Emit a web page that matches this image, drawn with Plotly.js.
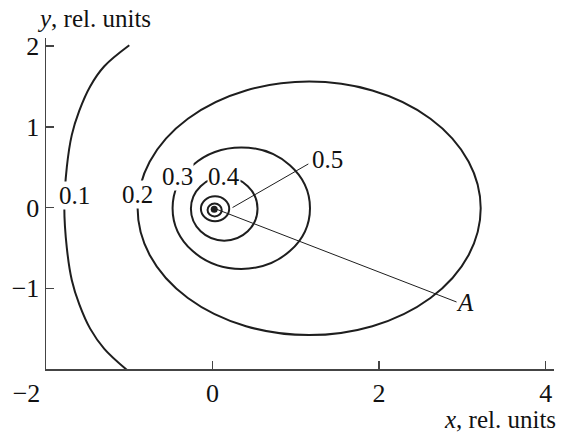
<!DOCTYPE html>
<html>
<head>
<meta charset="utf-8">
<script src="https://cdn.plot.ly/plotly-3.0.1.min.js"></script>
<style>
  html, body { margin: 0; padding: 0; background: #fff; }
  #chart { width: 565px; height: 432px; }
</style>
</head>
<body>
<div id="chart"></div>
<script>
// Open outer contour (level 0.1), read as points along the curve
const level01X = [-1.00, -1.30, -1.47, -1.60, -1.69, -1.75, -1.78, -1.75, -1.69, -1.60, -1.47, -1.30, -1.03];
const level01Y = [2.01, 1.75, 1.50, 1.20, 0.90, 0.50, 0.00, -0.50, -0.90, -1.20, -1.50, -1.75, -2.01];

// Closed contours: extents of each ring (levels 0.2, 0.3, 0.4, 0.5 and the innermost ring)
const ringLevels = ['0.2', '0.3', '0.4', '0.5', ''];
const ringXmin = [-0.90, -0.48, -0.26, -0.14, -0.06];
const ringXmax = [3.22, 1.17, 0.54, 0.20, 0.11];
const ringYmin = [-1.58, -0.76, -0.41, -0.17, -0.11];
const ringYmax = [1.56, 0.745, 0.38, 0.14, 0.05];

// Source point
const sourceX = [0.02];
const sourceY = [-0.02];

// Contour labels sitting on their curves
const labelText = ['0.1', '0.2', '0.3', '0.4'];
const labelX = [-1.66, -0.90, -0.42, 0.14];
const labelY = [0.15, 0.165, 0.39, 0.39];

// Leader lines for the 0.5 label and the point A
const leader05X = [0.24, 1.15];
const leader05Y = [0.00, 0.54];
const leaderAX = [0.02, 2.93];
const leaderAY = [-0.01, -1.17];
const leaderText = ['0.5', '<i>A</i>'];
const leaderTextX = [1.38, 3.03];
const leaderTextY = [0.60, -1.18];

// Axis ticks; the -2 label is pushed left, clear of the vertical axis
const xTicks = [-2, 0, 2, 4];
const xTickText = ['\u22122\u00a0\u00a0\u00a0\u00a0\u00a0\u00a0', '0', '2', '4'];
const yTicks = [-1, 0, 1, 2];

const ink = '#1e1e1e';
const axisInk = '#444';
const serif = 'Liberation Serif, Times New Roman, serif';

const traces = [
  { x: level01X, y: level01Y, mode: 'lines', line: { color: ink, width: 2, shape: 'spline', smoothing: 1 }, hoverinfo: 'skip' },
  { x: leader05X, y: leader05Y, mode: 'lines', line: { color: ink, width: 1 }, hoverinfo: 'skip' },
  { x: leaderAX, y: leaderAY, mode: 'lines', line: { color: ink, width: 1 }, hoverinfo: 'skip' },
  { x: sourceX, y: sourceY, mode: 'markers', marker: { color: ink, size: 7 }, hoverinfo: 'skip' }
];

const shapes = ringLevels.map((lv, i) => ({
  type: 'circle', xref: 'x', yref: 'y',
  x0: ringXmin[i], x1: ringXmax[i], y0: ringYmin[i], y1: ringYmax[i],
  line: { color: ink, width: 2 }, layer: 'below'
}));

const annotations = [];
labelText.forEach((t, i) => annotations.push({
  x: labelX[i], y: labelY[i], xref: 'x', yref: 'y', text: t, showarrow: false,
  bgcolor: '#ffffff', borderpad: 0, font: { family: serif, size: 25, color: '#111' }
}));
leaderText.forEach((t, i) => annotations.push({
  x: leaderTextX[i], y: leaderTextY[i], xref: 'x', yref: 'y', text: t, showarrow: false,
  font: { family: serif, size: 25, color: '#111' }
}));
annotations.push({
  x: -0.022, y: 1.06, xref: 'paper', yref: 'paper', xanchor: 'left', yanchor: 'middle',
  text: '<i>y</i>, rel. units', showarrow: false, font: { family: serif, size: 25, color: '#111' }
});
annotations.push({
  x: 1.007, y: -0.153, xref: 'paper', yref: 'paper', xanchor: 'right', yanchor: 'middle',
  text: '<i>x</i>, rel. units', showarrow: false, font: { family: serif, size: 25, color: '#111' }
});

const axisCommon = {
  showline: true, linecolor: axisInk, linewidth: 1.5,
  ticks: 'inside', ticklen: 8, tickwidth: 1.5, tickcolor: axisInk,
  showgrid: false, zeroline: false, mirror: false, fixedrange: true,
  tickfont: { family: serif, size: 26, color: '#111' }
};

const layout = {
  width: 565, height: 432,
  margin: { l: 46, r: 11, t: 38, b: 63 },
  paper_bgcolor: '#fff', plot_bgcolor: '#fff',
  showlegend: false,
  xaxis: Object.assign({}, axisCommon, { range: [-2, 4.1], tickvals: xTicks, ticktext: xTickText }),
  yaxis: Object.assign({}, axisCommon, { range: [-2, 2.1], tickvals: yTicks }),
  shapes: shapes,
  annotations: annotations
};

Plotly.newPlot('chart', traces, layout, { staticPlot: true, displayModeBar: false });
</script>
</body>
</html>
